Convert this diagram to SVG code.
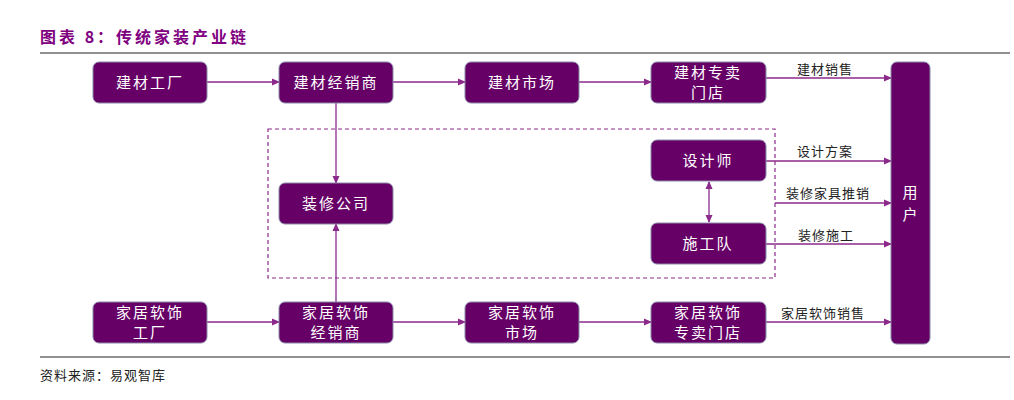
<svg xmlns="http://www.w3.org/2000/svg" width="1014" height="400" viewBox="0 0 1014 400">
<style>
text{font-family:"Noto Sans CJK SC","Noto Sans",sans-serif}
.b{fill:#660066;stroke:#8a8aa8;stroke-width:1}
.t{fill:#fff;font-size:15px;text-anchor:middle;letter-spacing:2px}
.l{fill:#222;font-size:13px;letter-spacing:1px}
.c{stroke:#8b2a8b;stroke-width:1.3;fill:none}
</style>
<defs><marker id="a" markerWidth="8" markerHeight="8" refX="7" refY="4" orient="auto-start-reverse" markerUnits="userSpaceOnUse"><path d="M0,0.5L8,4L0,7.5z" fill="#8b2a8b"/></marker></defs>
<rect width="1014" height="400" fill="#fff"/>
<text x="40" y="43" font-size="16" font-weight="bold" fill="#800080" letter-spacing="3">图表 8：传统家装产业链</text>
<line x1="40" y1="53" x2="1010" y2="53" stroke="#222" stroke-width="1.2"/>
<line x1="40" y1="357" x2="1010" y2="357" stroke="#222" stroke-width="1"/>
<text x="40" y="380" font-size="13" fill="#222" letter-spacing="1">资料来源：易观智库</text>
<rect x="268" y="129" width="507" height="149" fill="none" stroke="#8b2a8b" stroke-width="1.2" stroke-dasharray="4,3"/>
<g id="connectors">
<path class="c" marker-end="url(#a)" d="M207,82H279"/>
<path class="c" marker-end="url(#a)" d="M393,82H465"/>
<path class="c" marker-end="url(#a)" d="M579,82H651"/>
<path class="c" marker-end="url(#a)" d="M766,78H891"/>
<path class="c" marker-end="url(#a)" d="M336,103V183"/>
<path class="c" marker-end="url(#a)" d="M336,302V224"/>
<path class="c" marker-end="url(#a)" d="M766,161H891"/>
<path class="c" marker-end="url(#a)" d="M775,203H891"/>
<path class="c" marker-end="url(#a)" d="M766,244H891"/>
<path class="c" marker-start="url(#a)" marker-end="url(#a)" d="M709,182V222"/>
<path class="c" marker-end="url(#a)" d="M207,322H279"/>
<path class="c" marker-end="url(#a)" d="M393,322H465"/>
<path class="c" marker-end="url(#a)" d="M579,322H651"/>
<path class="c" marker-end="url(#a)" d="M766,322H891"/>
</g>
<g class="l">
<text x="797" y="74">建材销售</text>
<text x="797" y="156">设计方案</text>
<text x="786" y="198">装修家具推销</text>
<text x="798" y="240">装修施工</text>
<text x="781" y="318">家居软饰销售</text>
</g>
<g id="n1"><rect class="b" x="93" y="62" width="114" height="41" rx="6"/><text class="t" x="150" y="88">建材工厂</text></g>
<g id="n2"><rect class="b" x="279" y="62" width="114" height="41" rx="6"/><text class="t" x="336" y="88">建材经销商</text></g>
<g id="n3"><rect class="b" x="465" y="62" width="114" height="41" rx="6"/><text class="t" x="522" y="88">建材市场</text></g>
<g id="n4"><rect class="b" x="651" y="62" width="115" height="41" rx="6"/><text class="t" x="708" y="78">建材专卖</text><text class="t" x="708" y="98">门店</text></g>
<g id="n5"><rect class="b" x="891" y="62" width="39" height="282" rx="6"/><text class="t" x="911" y="198">用</text><text class="t" x="911" y="220">户</text></g>
<g id="n6"><rect class="b" x="651" y="140" width="115" height="41" rx="6"/><text class="t" x="708" y="166">设计师</text></g>
<g id="n7"><rect class="b" x="279" y="183" width="114" height="41" rx="6"/><text class="t" x="336" y="209">装修公司</text></g>
<g id="n8"><rect class="b" x="651" y="223" width="115" height="41" rx="6"/><text class="t" x="708" y="249">施工队</text></g>
<g id="n9"><rect class="b" x="93" y="302" width="114" height="41" rx="6"/><text class="t" x="150" y="318">家居软饰</text><text class="t" x="150" y="338">工厂</text></g>
<g id="n10"><rect class="b" x="279" y="302" width="114" height="41" rx="6"/><text class="t" x="336" y="318">家居软饰</text><text class="t" x="336" y="338">经销商</text></g>
<g id="n11"><rect class="b" x="465" y="302" width="114" height="41" rx="6"/><text class="t" x="522" y="318">家居软饰</text><text class="t" x="522" y="338">市场</text></g>
<g id="n12"><rect class="b" x="651" y="302" width="115" height="41" rx="6"/><text class="t" x="708" y="318">家居软饰</text><text class="t" x="708" y="338">专卖门店</text></g>
</svg>
